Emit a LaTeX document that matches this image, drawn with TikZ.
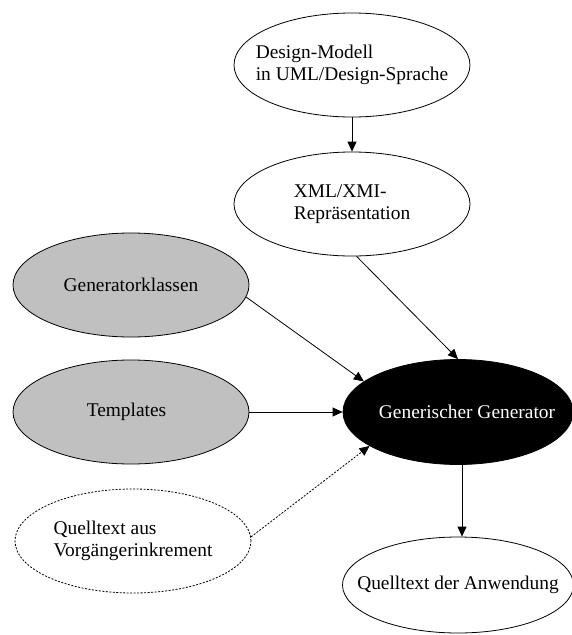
\documentclass[tikz,border=0pt]{standalone}
\usepackage{fontspec}
\setmainfont{Liberation Serif}
\usetikzlibrary{shapes.geometric,arrows.meta}
\begin{document}
\begin{tikzpicture}[x=1pt,y=-1pt,
  blob/.style={ellipse,draw,line width=0.8pt,inner ysep=0pt,inner xsep=-40pt,
    minimum width=236pt,minimum height=104pt,
    font=\fontsize{19.4}{22.5}\selectfont,align=left},
  greyblob/.style={blob,fill={rgb,255:red,192;green,192;blue,192}},
  darkblob/.style={blob,fill=black,text=white,minimum width=230pt,minimum height=105pt},
  dottedblob/.style={blob,dash pattern=on 2pt off 1.5pt},
  link/.style={line width=0.8pt,-{Triangle[length=10pt,width=9pt]}}]
\clip (0,0) rectangle (572,635);
\fill[white] (0,0) rectangle (572,635);

\node[blob] (design) at (352,65) {Design-Modell\\in UML/Design-Sprache};
\node[blob] (xml) at (352,204) {XML/XMI-\\Repräsentation};
\node[greyblob] (gk) at (131,285) {Generatorklassen};
\node[greyblob] (tpl) at (131,412) {\hspace*{-9pt}Templates};
\node[dottedblob] (qa) at (133,541) {Quelltext aus\\Vorgängerinkrement};
\node[darkblob] (gen) at (458,412) {\hspace*{18pt}Generischer Generator};
\node[blob,minimum width=231pt,minimum height=96pt] (qd) at (458,585) {Quelltext der Anwendung};

\draw[link] (design.south) -- (xml.north);
\draw[link] (xml.275.6) -- (gen.north);
\draw[link] (gk.-6) -- (gen.162.75);
\draw[link] (tpl.east) -- (gen.west);
\draw[link,dash pattern=on 2pt off 1.5pt] (qa.2) -- (gen.201.9);
\draw[link] ([xshift=4pt]gen.south) -- ([xshift=4pt]qd.north);
\end{tikzpicture}
\end{document}
